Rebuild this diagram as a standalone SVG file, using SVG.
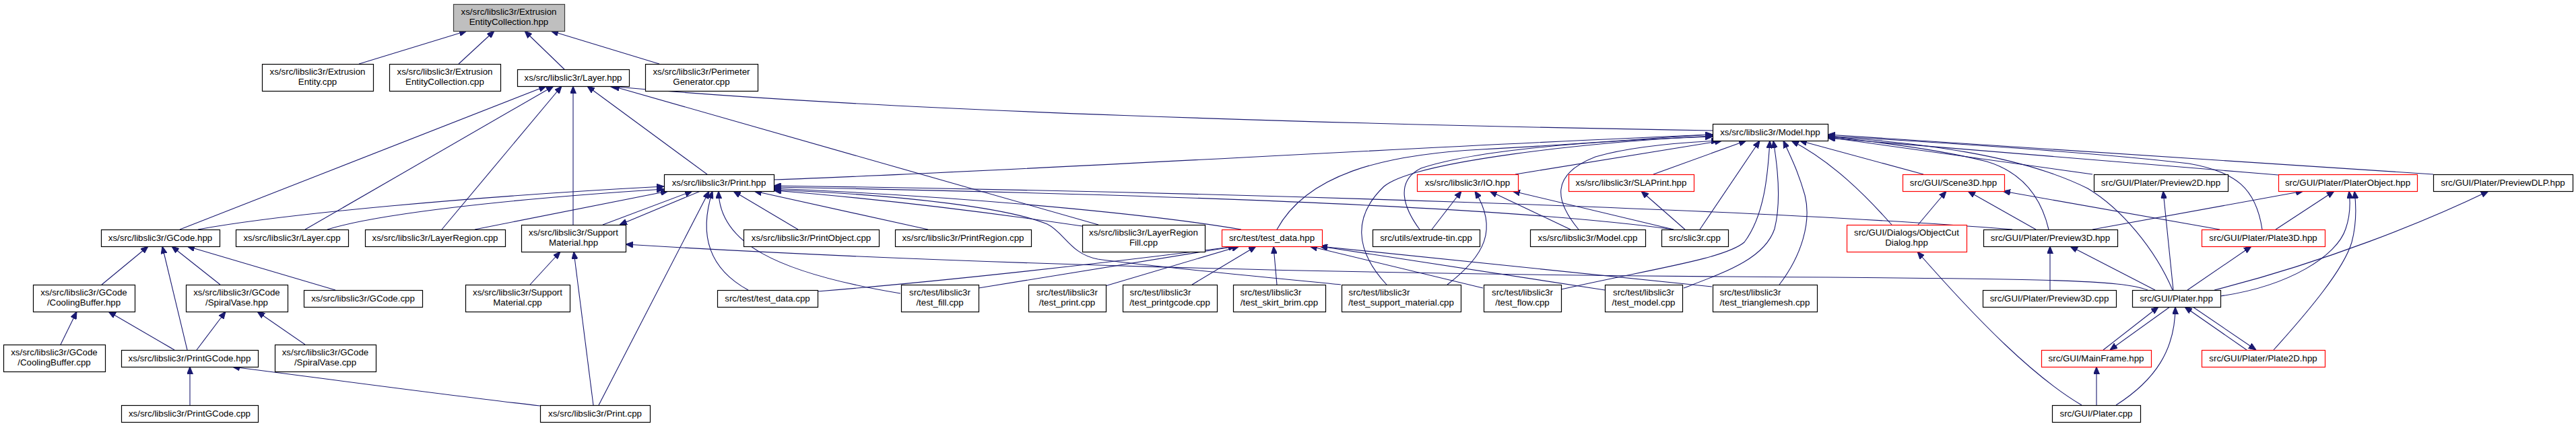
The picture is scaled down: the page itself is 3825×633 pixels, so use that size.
<svg xmlns="http://www.w3.org/2000/svg" width="3825" height="633" viewBox="0 0 3825 633">
<defs>
<style>
.e{fill:none;stroke:#191970;stroke-width:1.1;marker-end:url(#ah)}
.n rect{fill:#fff;stroke:#000;stroke-width:1.2}
.r rect{fill:#fff;stroke:#f00;stroke-width:1.2}
.g rect{fill:#bfbfbf;stroke:#404040;stroke-width:1.2}
text{font-family:"Liberation Sans",Arial,sans-serif;font-size:13.3px;text-anchor:middle;fill:#000}
text.l{text-anchor:start}
</style>
<marker id="ah" viewBox="0 0 11 9" refX="11" refY="4.5" markerWidth="11" markerHeight="9" markerUnits="userSpaceOnUse" orient="auto"><path d="M0,0 L11,4.5 L0,9 z" fill="#191970" stroke="#191970"/></marker>
</defs>
<rect width="3825" height="633" fill="#fff"/>
<g id="connectors">
<path class="e" d="M533,95 L693,46"/>
<path class="e" d="M681,95 L734,46"/>
<path class="e" d="M838,103 L779,46"/>
<path class="e" d="M979,95 L818,46"/>
<path class="e" d="M267,341 L811,128"/>
<path class="e" d="M453,341 L822,128"/>
<path class="e" d="M656,341 L834,128"/>
<path class="e" d="M851,334 L851,128"/>
<path class="e" d="M1050,259 L872,128"/>
<path class="e" d="M2543,194 C2000,185 1300,165 905,128"/>
<path class="e" d="M1631,334 L909,128"/>
<path class="e" d="M294,341 C420,318 700,292 986,277"/>
<path class="e" d="M486,341 C560,318 750,296 986,281"/>
<path class="e" d="M705,341 L992,284"/>
<path class="e" d="M895,334 L1028,284"/>
<path class="e" d="M1040,284 L920,334"/>
<path class="e" d="M889,602 L1053,284"/>
<path class="e" d="M1111,431 C1045,395 1040,340 1058,284"/>
<path class="e" d="M1337,436 C1150,405 1068,360 1067,284"/>
<path class="e" d="M1185,341 L1089,284"/>
<path class="e" d="M1378,341 L1120,284"/>
<path class="e" d="M2988,341 C2600,310 1800,285 1149,276"/>
<path class="e" d="M2485,341 C2300,315 1900,292 1149,278"/>
<path class="e" d="M1843,341 C1750,325 1500,295 1149,280"/>
<path class="e" d="M1991,423 C1900,414 1700,395 1630,385 C1590,378 1580,345 1555,333 C1500,310 1350,290 1149,282"/>
<path class="e" d="M1607,336 C1450,313 1300,295 1149,283"/>
<path class="e" d="M1149,267 C1500,255 2100,218 2543,200"/>
<path class="e" d="M1896,341 C1940,260 2050,230 2200,222 C2350,214 2450,205 2543,200"/>
<path class="e" d="M2059,423 C2010,370 2010,320 2055,277 C2100,240 2350,212 2543,202"/>
<path class="e" d="M2108,341 C2085,310 2070,270 2110,250 C2200,220 2400,208 2543,203"/>
<path class="e" d="M2250,259 L2557,209"/>
<path class="e" d="M2344,341 C2310,300 2300,260 2369,233 C2420,218 2490,212 2552,209"/>
<path class="e" d="M2455,259 L2593,209"/>
<path class="e" d="M2524,341 L2613,209"/>
<path class="e" d="M2318,430 C2450,400 2560,385 2590,360 C2620,320 2625,260 2628,209"/>
<path class="e" d="M2500,428 C2560,405 2620,385 2635,340 C2645,300 2640,250 2633,209"/>
<path class="e" d="M2642,423 C2675,380 2690,330 2680,290 C2670,255 2660,235 2648,209"/>
<path class="e" d="M2809,334 C2770,290 2720,240 2660,209"/>
<path class="e" d="M2856,259 L2672,209"/>
<path class="e" d="M3613,259 L2714,200"/>
<path class="e" d="M3359,341 C3350,280 3320,255 3250,243 C3100,225 2850,210 2714,202"/>
<path class="e" d="M3383,260 L2714,205"/>
<path class="e" d="M3107,259 L2714,204"/>
<path class="e" d="M3042,341 C3030,290 3000,255 2950,240 C2880,222 2780,210 2714,203"/>
<path class="e" d="M3226,431 C3200,370 3150,310 3100,280 C3000,230 2850,212 2714,203"/>
<path class="e" d="M2126,341 L2170,284"/>
<path class="e" d="M2149,423 C2205,380 2225,340 2190,284"/>
<path class="e" d="M2332,341 L2212,284"/>
<path class="e" d="M2485,341 L2246,284"/>
<path class="e" d="M2502,341 L2437,284"/>
<path class="e" d="M2848,334 L2890,284"/>
<path class="e" d="M3023,341 L2922,284"/>
<path class="e" d="M3296,341 L2974,284"/>
<path class="e" d="M3227,431 L3212,284"/>
<path class="e" d="M3107,341 L3420,284"/>
<path class="e" d="M3379,341 L3466,284"/>
<path class="e" d="M3297,440 C3400,425 3470,380 3483,340 C3490,320 3490,300 3488,284"/>
<path class="e" d="M3376,520 C3430,460 3480,400 3492,360 C3500,330 3498,300 3496,284"/>
<path class="e" d="M3288,431 C3450,390 3600,330 3695,284"/>
<path class="e" d="M151,423 L220,366"/>
<path class="e" d="M278,520 L241,366"/>
<path class="e" d="M327,423 L255,366"/>
<path class="e" d="M498,431 L278,366"/>
<path class="e" d="M90,512 L114,463"/>
<path class="e" d="M259,520 L161,463"/>
<path class="e" d="M292,520 L335,463"/>
<path class="e" d="M453,512 L382,463"/>
<path class="e" d="M282,602 L282,545"/>
<path class="e" d="M802,603 C700,592 500,565 345,545"/>
<path class="e" d="M787,423 L832,374"/>
<path class="e" d="M881,602 L852,374"/>
<path class="e" d="M3189,431 C3150,416 3050,414 2560,411 C2000,407 1400,392 929,363"/>
<path class="e" d="M1453,428 L1835,366"/>
<path class="e" d="M1214,433 C1400,418 1650,390 1835,366"/>
<path class="e" d="M1641,425 L1840,366"/>
<path class="e" d="M1770,423 L1865,366"/>
<path class="e" d="M1896,423 L1891,366"/>
<path class="e" d="M2202,428 L1945,366"/>
<path class="e" d="M2383,431 L1960,366"/>
<path class="e" d="M2542,426 L1960,366"/>
<path class="e" d="M3091,602 C3020,560 2940,480 2847,374"/>
<path class="e" d="M3044,431 L3044,366"/>
<path class="e" d="M3200,431 L3074,366"/>
<path class="e" d="M3248,431 L3343,366"/>
<path class="e" d="M3123,520 L3205,456"/>
<path class="e" d="M3222,456 L3133,520"/>
<path class="e" d="M3142,602 C3200,565 3230,520 3230,456"/>
<path class="e" d="M3336,520 L3244,456"/>
<path class="e" d="M3256,456 L3350,520"/>
<path class="e" d="M3113,602 L3113,545"/>
</g>
<g id="n0" class="g"><rect x="673.5" y="6.5" width="165" height="40"/><text x="755.5" y="22">xs/src/libslic3r/Extrusion</text><text x="755.5" y="37">EntityCollection.hpp</text></g>
<g id="n1" class="n"><rect x="389.5" y="95.5" width="165" height="40"/><text x="471.5" y="111">xs/src/libslic3r/Extrusion</text><text x="471.5" y="126">Entity.cpp</text></g>
<g id="n2" class="n"><rect x="578.5" y="95.5" width="165" height="40"/><text x="660.5" y="111">xs/src/libslic3r/Extrusion</text><text x="660.5" y="126">EntityCollection.cpp</text></g>
<g id="n3" class="n"><rect x="768.5" y="103.5" width="166" height="25"/><text x="851" y="120">xs/src/libslic3r/Layer.hpp</text></g>
<g id="n4" class="n"><rect x="958.5" y="95.5" width="167" height="40"/><text x="1041.5" y="111">xs/src/libslic3r/Perimeter</text><text x="1041.5" y="126">Generator.cpp</text></g>
<g id="n5" class="n"><rect x="2543.5" y="184.5" width="171" height="25"/><text x="2628.5" y="201">xs/src/libslic3r/Model.hpp</text></g>
<g id="n6" class="n"><rect x="986.5" y="259.5" width="163" height="25"/><text x="1067.5" y="276">xs/src/libslic3r/Print.hpp</text></g>
<g id="n7" class="r"><rect x="2104.5" y="259.5" width="150" height="25"/><text x="2179" y="276">xs/src/libslic3r/IO.hpp</text></g>
<g id="n8" class="r"><rect x="2329.5" y="259.5" width="186" height="25"/><text x="2422" y="276">xs/src/libslic3r/SLAPrint.hpp</text></g>
<g id="n9" class="r"><rect x="2825.5" y="259.5" width="151" height="25"/><text x="2900.5" y="276">src/GUI/Scene3D.hpp</text></g>
<g id="n10" class="n"><rect x="3109.5" y="259.5" width="199" height="25"/><text x="3208.5" y="276">src/GUI/Plater/Preview2D.hpp</text></g>
<g id="n11" class="r"><rect x="3383.5" y="259.5" width="206" height="25"/><text x="3486" y="276">src/GUI/Plater/PlaterObject.hpp</text></g>
<g id="n12" class="n"><rect x="3613.5" y="259.5" width="207" height="25"/><text x="3716.5" y="276">src/GUI/Plater/PreviewDLP.hpp</text></g>
<g id="n13" class="n"><rect x="150.5" y="341.5" width="176" height="25"/><text x="238" y="358">xs/src/libslic3r/GCode.hpp</text></g>
<g id="n14" class="n"><rect x="350.5" y="341.5" width="167" height="25"/><text x="433.5" y="358">xs/src/libslic3r/Layer.cpp</text></g>
<g id="n15" class="n"><rect x="542.5" y="341.5" width="208" height="25"/><text x="646" y="358">xs/src/libslic3r/LayerRegion.cpp</text></g>
<g id="n16" class="n"><rect x="774.5" y="334.5" width="155" height="40"/><text x="851.5" y="350">xs/src/libslic3r/Support</text><text x="851.5" y="365">Material.hpp</text></g>
<g id="n17" class="n"><rect x="1104.5" y="341.5" width="201" height="25"/><text x="1204.5" y="358">xs/src/libslic3r/PrintObject.cpp</text></g>
<g id="n18" class="n"><rect x="1329.5" y="341.5" width="202" height="25"/><text x="1430" y="358">xs/src/libslic3r/PrintRegion.cpp</text></g>
<g id="n19" class="n"><rect x="1607.5" y="334.5" width="182" height="40"/><text x="1698" y="350">xs/src/libslic3r/LayerRegion</text><text x="1698" y="365">Fill.cpp</text></g>
<g id="n20" class="r"><rect x="1814.5" y="341.5" width="149" height="25"/><text x="1888.5" y="358">src/test/test_data.hpp</text></g>
<g id="n21" class="n"><rect x="2038.5" y="341.5" width="159" height="25"/><text x="2117.5" y="358">src/utils/extrude-tin.cpp</text></g>
<g id="n22" class="n"><rect x="2272.5" y="341.5" width="171" height="25"/><text x="2357.5" y="358">xs/src/libslic3r/Model.cpp</text></g>
<g id="n23" class="n"><rect x="2467.5" y="341.5" width="99" height="25"/><text x="2516.5" y="358">src/slic3r.cpp</text></g>
<g id="n24" class="r"><rect x="2742.5" y="334.5" width="178" height="40"/><text x="2831" y="350">src/GUI/Dialogs/ObjectCut</text><text x="2831" y="365">Dialog.hpp</text></g>
<g id="n25" class="n"><rect x="2945.5" y="341.5" width="199" height="25"/><text x="3044.5" y="358">src/GUI/Plater/Preview3D.hpp</text></g>
<g id="n26" class="r"><rect x="3269.5" y="341.5" width="183" height="25"/><text x="3360.5" y="358">src/GUI/Plater/Plate3D.hpp</text></g>
<g id="n27" class="n"><rect x="49.5" y="423.5" width="151" height="40"/><text x="124.5" y="439">xs/src/libslic3r/GCode</text><text x="124.5" y="454">/CoolingBuffer.hpp</text></g>
<g id="n28" class="n"><rect x="276.5" y="423.5" width="151" height="40"/><text x="351.5" y="439">xs/src/libslic3r/GCode</text><text x="351.5" y="454">/SpiralVase.hpp</text></g>
<g id="n29" class="n"><rect x="451.5" y="431.5" width="176" height="25"/><text x="539" y="448">xs/src/libslic3r/GCode.cpp</text></g>
<g id="n30" class="n"><rect x="691.5" y="423.5" width="155" height="40"/><text x="768.5" y="439">xs/src/libslic3r/Support</text><text x="768.5" y="454">Material.cpp</text></g>
<g id="n31" class="n"><rect x="1065.5" y="431.5" width="149" height="25"/><text x="1139.5" y="448">src/test/test_data.cpp</text></g>
<g id="n32" class="n"><rect x="1338.5" y="423.5" width="115" height="40"/><text x="1395.5" y="439">src/test/libslic3r</text><text x="1395.5" y="454">/test_fill.cpp</text></g>
<g id="n33" class="n"><rect x="1527.5" y="423.5" width="115" height="40"/><text x="1584.5" y="439">src/test/libslic3r</text><text x="1584.5" y="454">/test_print.cpp</text></g>
<g id="n34" class="n"><rect x="1667.5" y="423.5" width="140" height="40"/><text class="l" x="1677.5" y="439">src/test/libslic3r</text><text x="1737" y="454">/test_printgcode.cpp</text></g>
<g id="n35" class="n"><rect x="1831.5" y="423.5" width="137" height="40"/><text class="l" x="1841.5" y="439">src/test/libslic3r</text><text x="1899.5" y="454">/test_skirt_brim.cpp</text></g>
<g id="n36" class="n"><rect x="1992.5" y="423.5" width="177" height="40"/><text class="l" x="2002.5" y="439">src/test/libslic3r</text><text x="2080.5" y="454">/test_support_material.cpp</text></g>
<g id="n37" class="n"><rect x="2203.5" y="423.5" width="115" height="40"/><text x="2260.5" y="439">src/test/libslic3r</text><text x="2260.5" y="454">/test_flow.cpp</text></g>
<g id="n38" class="n"><rect x="2383.5" y="423.5" width="115" height="40"/><text x="2440.5" y="439">src/test/libslic3r</text><text x="2440.5" y="454">/test_model.cpp</text></g>
<g id="n39" class="n"><rect x="2543.5" y="423.5" width="155" height="40"/><text class="l" x="2553.5" y="439">src/test/libslic3r</text><text x="2620.5" y="454">/test_trianglemesh.cpp</text></g>
<g id="n40" class="n"><rect x="2944.5" y="431.5" width="198" height="25"/><text x="3043" y="448">src/GUI/Plater/Preview3D.cpp</text></g>
<g id="n41" class="n"><rect x="3166.5" y="431.5" width="131" height="25"/><text x="3231.5" y="448">src/GUI/Plater.hpp</text></g>
<g id="n42" class="n"><rect x="5.5" y="512.5" width="151" height="40"/><text x="80.5" y="528">xs/src/libslic3r/GCode</text><text x="80.5" y="543">/CoolingBuffer.cpp</text></g>
<g id="n43" class="n"><rect x="180.5" y="520.5" width="203" height="25"/><text x="281.5" y="537">xs/src/libslic3r/PrintGCode.hpp</text></g>
<g id="n44" class="n"><rect x="408.5" y="512.5" width="150" height="40"/><text x="483" y="528">xs/src/libslic3r/GCode</text><text x="483" y="543">/SpiralVase.cpp</text></g>
<g id="n45" class="r"><rect x="3031.5" y="520.5" width="163" height="25"/><text x="3112.5" y="537">src/GUI/MainFrame.hpp</text></g>
<g id="n46" class="r"><rect x="3269.5" y="520.5" width="183" height="25"/><text x="3360.5" y="537">src/GUI/Plater/Plate2D.hpp</text></g>
<g id="n47" class="n"><rect x="180.5" y="602.5" width="203" height="25"/><text x="281.5" y="619">xs/src/libslic3r/PrintGCode.cpp</text></g>
<g id="n48" class="n"><rect x="802.5" y="602.5" width="163" height="25"/><text x="883.5" y="619">xs/src/libslic3r/Print.cpp</text></g>
<g id="n49" class="n"><rect x="3047.5" y="602.5" width="131" height="25"/><text x="3112.5" y="619">src/GUI/Plater.cpp</text></g>
</svg>
